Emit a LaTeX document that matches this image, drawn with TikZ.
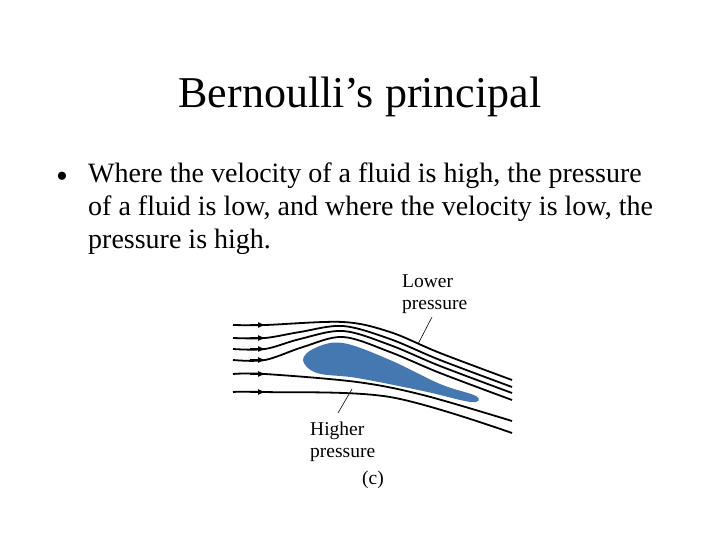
\documentclass[tikz,border=0pt]{standalone}
\usepackage{fontspec}
\setmainfont{Liberation Serif}
\usetikzlibrary{arrows.meta}
\definecolor{foil}{HTML}{4577B0}
\begin{document}
\begin{tikzpicture}[x=1pt,y=-1pt,
  stream/.style={line width=1.8pt},
  tip/.style={line width=1.8pt,-{Latex[length=8pt,width=6pt]}},
  lbl/.style={font=\fontsize{19.5}{22}\selectfont,align=left,inner sep=0pt}]
\useasboundingbox (0,0) rectangle (720,540);
\node (title) at (360,97) {\fontsize{44}{50}\selectfont Bernoulli’s principal};
\node (bul) at (62,180) {\fontsize{34}{30}\selectfont •};
\node[anchor=north west,align=left,inner sep=0pt,font=\fontsize{28}{33}\selectfont] (body) at (88,163) {Where the velocity of a fluid is high, the pressure\\of a fluid is low, and where the velocity is low, the\\pressure is high.};
\fill[foil] plot[smooth cycle,tension=0.6] coordinates {(303,360) (315,348) (343,343) (390,360) (440,384) (476,396) (471,402) (423,391) (357,378) (317,373)};
\draw[stream] plot[smooth,tension=0.55] coordinates {(233,325) (265,325) (343,322) (390,332) (440,353) (512,380)};
\draw[stream] plot[smooth,tension=0.55] coordinates {(233,338) (265,338) (300,332) (343,326) (390,339) (440,360) (512,387)};
\draw[stream] plot[smooth,tension=0.55] coordinates {(233,349) (265,349) (300,339) (343,331) (390,345) (440,366) (512,393)};
\draw[stream] plot[smooth,tension=0.55] coordinates {(233,360) (265,360) (303,347) (343,337) (390,352) (440,373) (512,400)};
\draw[stream] plot[smooth,tension=0.55] coordinates {(233,374) (265,374) (357,382) (423,395) (512,421)};
\draw[stream] plot[smooth,tension=0.55] coordinates {(233,392) (265,392) (390,397) (512,433)};
\draw[tip] (250,325) -- (266,325);
\draw[tip] (250,338) -- (266,338);
\draw[tip] (250,349) -- (266,349);
\draw[tip] (250,360) -- (266,360);
\draw[tip] (250,374) -- (266,374);
\draw[tip] (250,392) -- (266,392);
\node[lbl,anchor=north west] (low) at (402,275) {Lower\\pressure};
\node[lbl,anchor=north west] (high) at (310,422) {Higher\\pressure};
\node[lbl] (c) at (373,480) {(c)};
\coordinate (la) at (432,317); \coordinate (lb) at (418,344);
\coordinate (ha) at (352,389); \coordinate (hb) at (338,413);
\draw[line width=0.6pt] (la) -- (lb);
\draw[line width=0.6pt] (ha) -- (hb);
\end{tikzpicture}
\end{document}
